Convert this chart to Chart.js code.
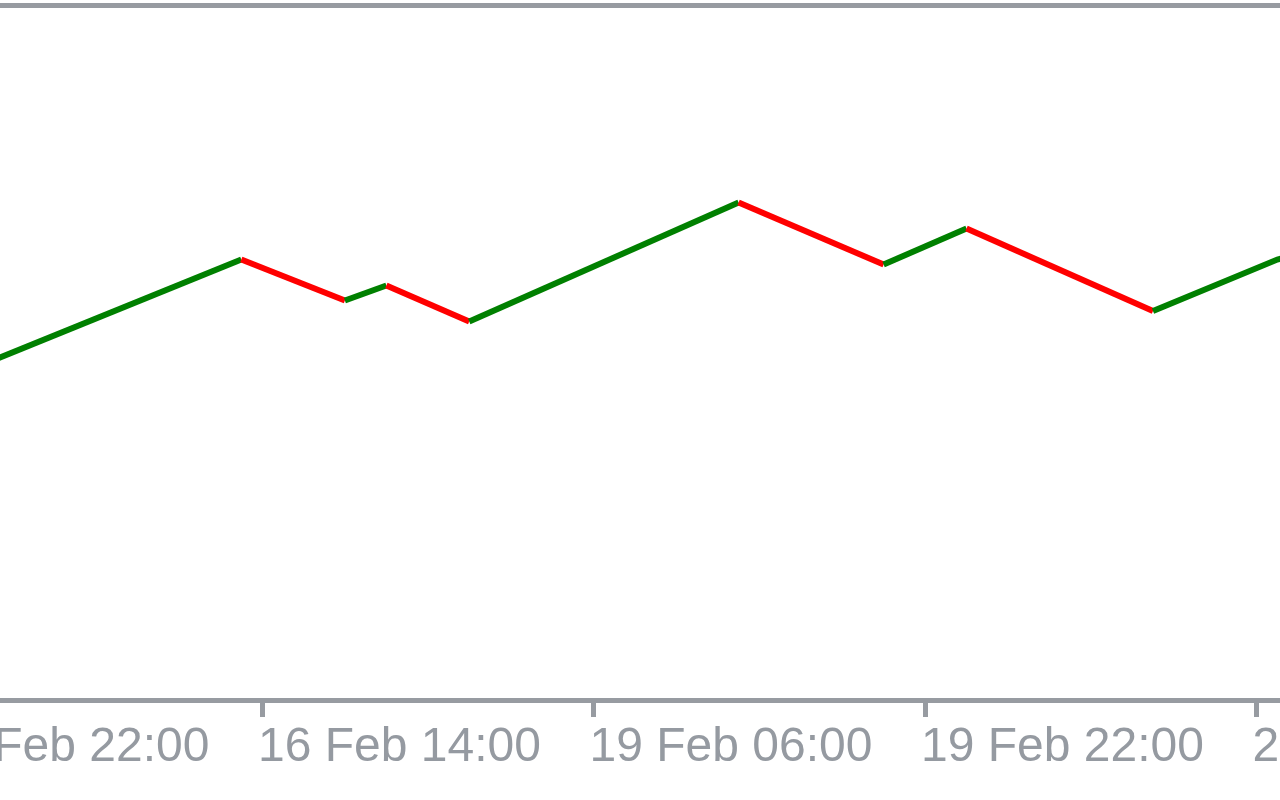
<!DOCTYPE html>
<html>
<head>
<meta charset="utf-8">
<title>Indicator line</title>
<script src="https://cdn.jsdelivr.net/npm/chart.js@4.4.1/dist/chart.umd.min.js"></script>
<style>
    html, body {
        margin: 0;
        padding: 0;
        background: #ffffff;
    }
    #wrap {
        width: 1280px;
        height: 800px;
    }
</style>
</head>
<body>
<div id="wrap"><canvas id="lineChart" width="1280" height="800"></canvas></div>
<script>
// bar index (H1 bars, 0 = 15 Feb 22:00) and indicator value at that bar
const bars = [3, 15, 20, 22, 26, 39, 46, 50, 59, 65, 66];
const values = [67.9, 88.1, 79.9, 82.9, 75.7, 99.5, 87.1, 94.3, 77.8, 88.1, 89.0];

// time axis ticks
const tickBars = [0, 16, 32, 48, 64];
const tickLabels = ['15 Feb 22:00', '16 Feb 14:00', '19 Feb 06:00', '19 Feb 22:00', '20 Feb 14:00'];

const axisGray = '#979ba1';
const textGray = '#959aa1';
const upColor = '#008000';
const downColor = '#ff0000';

const points = bars.map((b, i) => ({ x: b, y: values[i] }));

const ctx = document.getElementById('lineChart').getContext('2d');

const chart = new Chart(ctx, {
    type: 'line',
    data: {
        datasets: [{
            data: points,
            borderWidth: 6,
            borderColor: upColor,
            pointRadius: 0,
            tension: 0,
            segment: {
                // green while rising, red while falling
                borderColor: c => c.p1.parsed.y < c.p0.parsed.y ? downColor : upColor,
            },
        }]
    },
    options: {
        responsive: false,
        animation: false,
        events: [],
        layout: {
            padding: { top: 5, left: 0, right: 0, bottom: 0 }
        },
        scales: {
            x: {
                type: 'linear',
                position: 'bottom',
                min: 3.354,
                max: 65.13,
                afterBuildTicks: scale => {
                    scale.ticks = tickBars.map(v => ({ value: v }));
                },
                afterFit: scale => {
                    scale.height = 100;
                    scale.paddingLeft = 0;
                    scale.paddingRight = 0;
                },
                border: {
                    display: true,
                    width: 5,
                    color: axisGray,
                },
                grid: {
                    display: true,
                    drawOnChartArea: false,
                    drawTicks: true,
                    tickLength: 17,
                    tickWidth: 5,
                    tickColor: axisGray,
                },
                ticks: {
                    autoSkip: false,
                    maxRotation: 0,
                    minRotation: 0,
                    align: 'start',
                    labelOffset: -4,
                    padding: 2,
                    color: textGray,
                    font: { family: 'Liberation Sans, Arial, sans-serif', size: 48 },
                    callback: (value, index) => tickLabels[index],
                },
            },
            xTop: {
                type: 'linear',
                position: 'top',
                min: 3.354,
                max: 65.13,
                afterFit: scale => {
                    scale.height = 0;
                    scale.paddingLeft = 0;
                    scale.paddingRight = 0;
                },
                border: {
                    display: true,
                    width: 5,
                    color: axisGray,
                },
                grid: { display: false, drawTicks: false },
                ticks: { display: false },
            },
            y: {
                display: false,
                min: 0,
                max: 139,
            },
        },
        plugins: {
            legend: { display: false },
            title: { display: false },
            tooltip: { enabled: false },
        },
    },
});
</script>
</body>
</html>
